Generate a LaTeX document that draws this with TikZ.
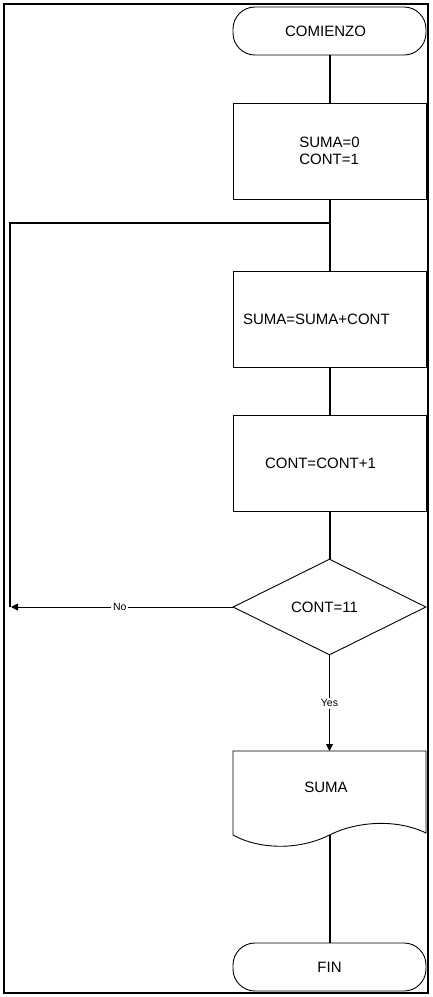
\documentclass[tikz,border=0pt]{standalone}
\usepackage{fontspec}
\setmainfont{Liberation Sans}
\usetikzlibrary{shapes.geometric,arrows.meta}
\begin{document}
\begin{tikzpicture}[x=1pt,y=-1pt,
  mainfont/.style={font=\fontsize{15}{16.5}\selectfont},
  box/.style={draw, line width=0.9pt, rectangle, minimum width=193pt, minimum height=96pt, inner sep=0pt, mainfont},
  term/.style={draw, line width=0.9pt, rectangle, rounded corners=22pt, minimum width=193pt, minimum height=48pt, inner sep=0pt, mainfont},
  decision/.style={draw, line width=0.9pt, diamond, aspect=2, minimum width=193pt, minimum height=96pt, inner sep=0pt, mainfont},
  conn/.style={line width=2pt},
  flow/.style={line width=0.9pt, -{Triangle[length=7pt,width=7pt]}},
  lbl/.style={fill=white, inner sep=2pt, font=\fontsize{10.5}{12}\selectfont}
]
\useasboundingbox (0,0) rectangle (432,997);
\draw[line width=1.3pt] (4,4) rectangle (428,993);

\node[term] (start) at (329.5,31) {\hspace*{-8pt}COMIENZO};
\node[box, align=left] (init) at (329.5,151) {SUMA=0\\CONT=1};
\node[box, align=left, text width=173pt, inner xsep=10pt] (sum) at (329.5,319) {SUMA=SUMA+CONT};
\node[box, align=left, text width=129pt, inner xsep=32pt] (inc) at (329.5,463) {CONT=CONT+1};
\node[decision] (cond) at (329.5,607) {\hspace*{-10pt}CONT=11};
\node[mainfont, inner sep=0pt] (doc) at (326,787) {SUMA};
\draw[line width=0.9pt] (233,835) .. controls (260,850) and (300,850) .. (329.5,835)
  .. controls (355,822) and (395,818) .. (426,833) -- (426,751) -- (233,751) -- cycle;
\coordinate (doctop) at (329.5,751);
\coordinate (docbot) at (329.5,835);
\node[term] (end) at (329.5,967) {FIN};

\coordinate (loopjoin) at (329.5,223);
\coordinate (looptop) at (10,223);
\coordinate (loopbot) at (10,607);

\draw[conn] (start) -- (init);
\draw[conn] (init) -- (sum);
\draw[conn] (loopbot) -- (looptop) -- (loopjoin);
\draw[flow, shorten >=1pt] (cond.west) -- node[lbl, pos=0.507] {No} (loopbot);
\draw[conn] (sum) -- (inc);
\draw[conn] (inc) -- (cond);
\draw[flow] (cond.south) -- node[lbl] {Yes} (doctop);
\draw[conn] (docbot) -- (end);
\end{tikzpicture}
\end{document}
